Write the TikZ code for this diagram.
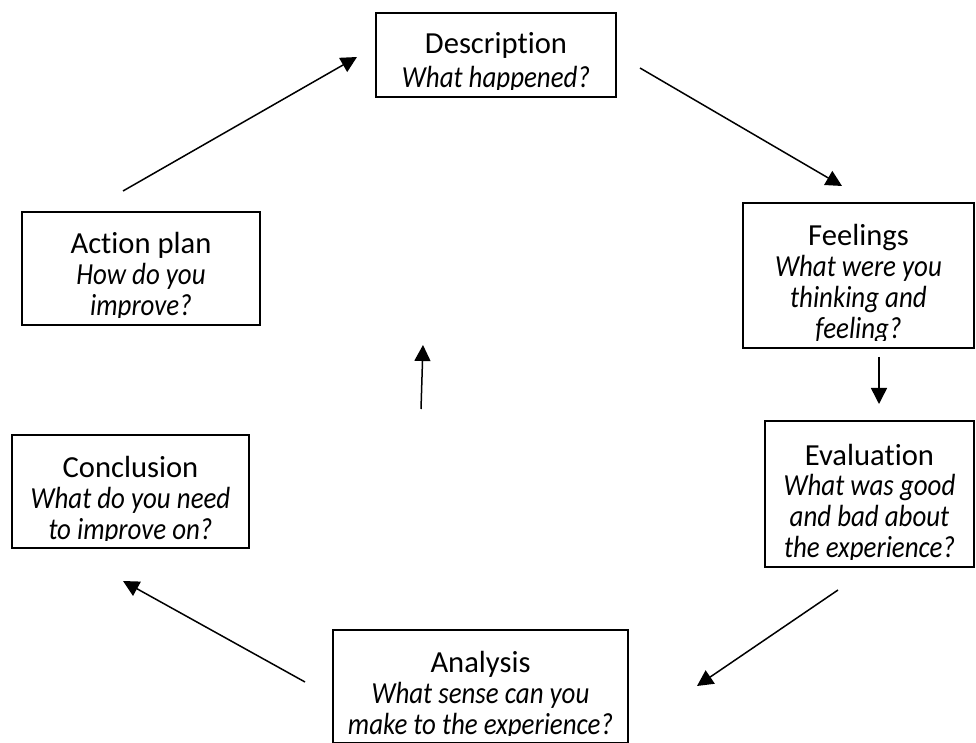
\documentclass[tikz,border=0pt]{standalone}
\usepackage{fontspec}
\setmainfont{Carlito}[Ligatures=NoCommon,ItalicFeatures={FakeStretch=0.88}]
\usetikzlibrary{arrows.meta}

\begin{document}
\begin{tikzpicture}[x=0.5pt,y=-0.5pt,every node/.style={font=\fontsize{15.3pt}{15.5pt}\selectfont},
  stage/.style={draw,line width=0.9pt,inner sep=0pt},
  words/.style={align=center,inner sep=0pt,anchor=base},
  cycarrow/.style={line width=0.75pt,-{Triangle[length=8pt,width=8pt]}}]
\useasboundingbox (0,0) rectangle (976,743);
% boxes
\node[stage,minimum width=120pt,minimum height=42pt] (desc) at (496,55) {};
\node[stage,minimum width=115.5pt,minimum height=72.5pt] (feel) at (858.5,275.5) {};
\node[stage,minimum width=104.5pt,minimum height=73pt] (eval) at (869.5,494) {};
\node[stage,minimum width=147.5pt,minimum height=56.5pt] (anal) at (480.5,686.5) {};
\node[stage,minimum width=118.5pt,minimum height=56.5pt] (concl) at (130.5,491.5) {};
\node[stage,minimum width=119pt,minimum height=56.5pt] (act) at (141,268.5) {};
% texts, cut off at the bottom like the boxes (base = last line)
\begin{scope}
\clip (desc.north west) rectangle ([yshift=4pt]desc.south east);
\node[words] (desc-txt) at (496,88) {Description\\[1.5pt]\textit{What happened?}};
\end{scope}
\begin{scope}
\clip (feel.north west) rectangle ([yshift=4pt]feel.south east);
\node[words] (feel-txt) at (858.5,339) {Feelings\\\textit{What were you}\\\textit{thinking and}\\\textit{feeling?}};
\end{scope}
\begin{scope}
\clip (eval.north west) rectangle ([yshift=4pt]eval.south east);
\node[words] (eval-txt) at (869.5,558) {Evaluation\\\textit{What was good}\\\textit{and bad about}\\\textit{the experience?}};
\end{scope}
\begin{scope}
\clip (anal.north west) rectangle ([yshift=4pt]anal.south east);
\node[words] (anal-txt) at (480.5,734) {Analysis\\\textit{What sense can you}\\\textit{make to the experience?}};
\end{scope}
\begin{scope}
\clip (concl.north west) rectangle ([yshift=4pt]concl.south east);
\node[words] (concl-txt) at (130.5,539) {Conclusion\\\textit{What do you need}\\\textit{to improve on?}};
\end{scope}
\begin{scope}
\clip (act.north west) rectangle ([yshift=4pt]act.south east);
\node[words] (act-txt) at (141,316) {Action plan\\\textit{How do you}\\\textit{improve?}};
\end{scope}
% arrow ends
\coordinate (desc-out) at (640,68);
\coordinate (feel-in) at (842,186);
\coordinate (feel-out) at (879,357);
\coordinate (eval-in) at (879,404);
\coordinate (eval-out) at (838,590);
\coordinate (anal-in) at (697,686);
\coordinate (anal-out) at (305,682);
\coordinate (concl-in) at (123,581);
\coordinate (mid-out) at (421,409);
\coordinate (mid-in) at (423,345);
\coordinate (act-out) at (123,191);
\coordinate (desc-in) at (357,57);
\draw[cycarrow] (desc-out) -- (feel-in);
\draw[cycarrow] (feel-out) -- (eval-in);
\draw[cycarrow] (eval-out) -- (anal-in);
\draw[cycarrow] (anal-out) -- (concl-in);
\draw[cycarrow] (mid-out) -- (mid-in);
\draw[cycarrow] (act-out) -- (desc-in);
\end{tikzpicture}
\end{document}
